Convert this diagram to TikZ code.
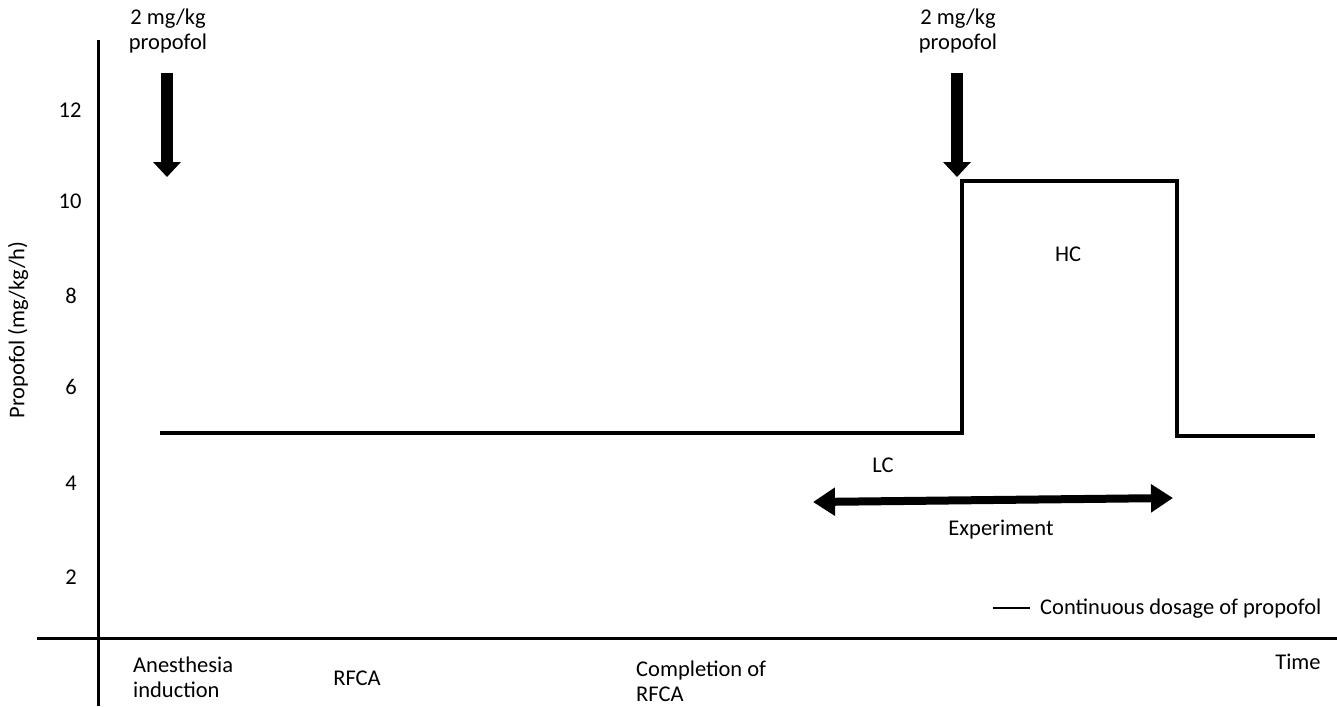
\documentclass[tikz,border=0pt]{standalone}
\usepackage{fontspec}
\setmainfont{Carlito}
\usetikzlibrary{arrows.meta}
\begin{document}
\begin{tikzpicture}[x=1pt,y=-1pt,
  lbl/.style={font=\fontsize{22.5}{25}\selectfont, inner sep=0pt, text=black},
  lblL/.style={lbl, align=left, anchor=west},
  axis/.style={line width=3pt, black},
  dose/.style={line width=4pt, black, line join=miter},
  bolus/.style={line width=12pt, -{Triangle[width=27pt,length=15pt]}},
  span/.style={line width=8pt, {Triangle[width=27pt,length=22pt]}-{Triangle[width=27pt,length=22pt]}}]
\useasboundingbox (0,0) rectangle (1337,706);
% axes
\coordinate (ytop) at (98,40);
\coordinate (ybot) at (98,706);
\coordinate (xl) at (37,638);
\coordinate (xr) at (1337,638);
\draw[axis] (ytop) -- (ybot);
\draw[axis] (xl) -- (xr);
% tick labels
\node[lbl] (t12) at (70,110) {12};
\node[lbl] (t10) at (70,201) {10};
\node[lbl] (t8) at (71,296) {8};
\node[lbl] (t6) at (71,387) {6};
\node[lbl] (t4) at (71,483) {4};
\node[lbl] (t2) at (71,577) {2};
\node[lbl, rotate=90] (ylab) at (18,330) {Propofol (mg/kg/h)};
% dosage step line
\coordinate (s0) at (160,433);
\coordinate (s1) at (962,433);
\coordinate (s2) at (962,181);
\coordinate (s3) at (1177,181);
\coordinate (s4) at (1177,436);
\coordinate (s5) at (1315,436);
\draw[dose] (s0) -- (s1) -- (s2) -- (s3) -- (s4) -- (s5);
% boluses
\node[lbl, align=center] (dose1) at (168,31) {2 mg/kg\\propofol};
\node[lbl, align=center] (dose2) at (958,31) {2 mg/kg\\propofol};
\coordinate (b1s) at (167,73);
\coordinate (b1e) at (167,177);
\coordinate (b2s) at (957,73);
\coordinate (b2e) at (957,177);
\draw[bolus] (b1s) -- (b1e);
\draw[bolus] (b2s) -- (b2e);
% labels
\node[lbl] (hc) at (1068,254) {HC};
\node[lbl] (lc) at (883,465) {LC};
\coordinate (el) at (813,502);
\coordinate (er) at (1173,498);
\draw[span] (el) -- (er);
\node[lbl] (exp) at (1001,530) {Experiment};
% legend
\coordinate (lg1) at (993,608);
\coordinate (lg2) at (1030,608);
\draw[line width=2pt] (lg1) -- (lg2);
\node[lblL] (lgt) at (1040,609) {Continuous dosage of propofol};
% x labels
\node[lbl] (time) at (1298,662) {Time};
\node[lblL] (ind) at (133,677) {Anesthesia\\induction};
\node[lbl] (rfca) at (357,678) {RFCA};
\node[lblL] (comp) at (636,681) {Completion of\\RFCA};
\end{tikzpicture}
\end{document}
